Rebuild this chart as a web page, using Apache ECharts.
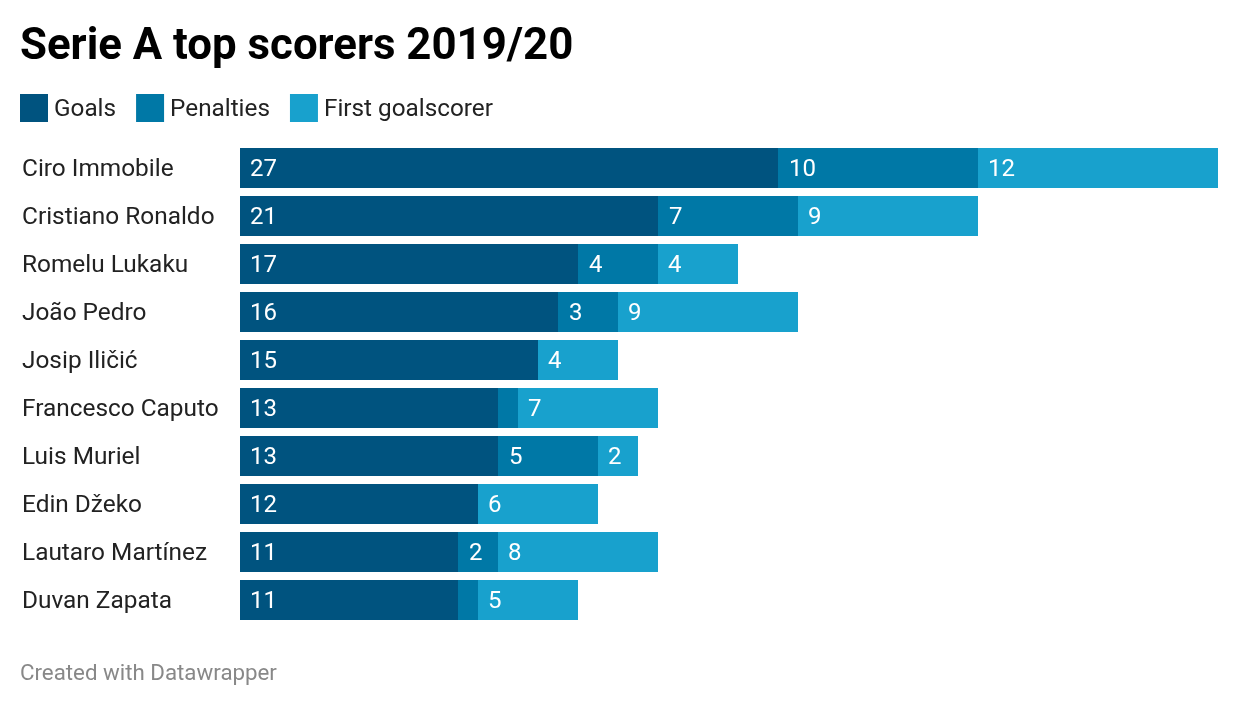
<!DOCTYPE html>
<html>
<head>
<meta charset="utf-8">
<script src="https://cdn.jsdelivr.net/npm/echarts@6/dist/echarts.min.js"></script>
<style>
html, body { margin: 0; padding: 0; background: #fff; }
#chart { width: 1240px; height: 706px; }
</style>
</head>
<body>
<div id="chart"></div>
<script>
const players = ['Ciro Immobile', 'Cristiano Ronaldo', 'Romelu Lukaku', 'João Pedro', 'Josip Iličić',
    'Francesco Caputo', 'Luis Muriel', 'Edin Džeko', 'Lautaro Martínez', 'Duvan Zapata'];
const goals = [27, 21, 17, 16, 15, 13, 13, 12, 11, 11];
const penalties = [10, 7, 4, 3, 0, 1, 5, 0, 2, 1];
const firstGoalscorer = [12, 9, 4, 9, 4, 7, 2, 6, 8, 5];

const fontName = 'Roboto';

// the narrow one-goal segments carry no label, same as the original
const makeSeries = (name, data, color, labelGap) => ({
    name: name,
    type: 'bar',
    stack: 'total',
    barWidth: 40,
    data: data,
    itemStyle: { color: color },
    label: {
        show: true,
        position: 'insideLeft',
        distance: labelGap,
        offset: [0, 2],
        color: '#fff',
        fontFamily: fontName,
        fontSize: 24,
        formatter: p => p.value > 1 ? p.value : ''
    },
    emphasis: { disabled: true }
});

const myChart = echarts.init(document.getElementById('chart'));
myChart.setOption({
    animation: false,
    textStyle: { fontFamily: fontName },
    title: [
        {
            text: 'Serie A top scorers 2019/20',
            left: 20,
            top: 26,
            padding: 0,
            textStyle: { fontFamily: fontName, fontSize: 43.8, fontWeight: 700, color: '#000' }
        },
        {
            text: 'Created with Datawrapper',
            left: 20,
            top: 663,
            padding: 0,
            textStyle: { fontFamily: fontName, fontSize: 22.3, fontWeight: 400, color: '#888' }
        }
    ],
    legend: {
        left: 20,
        top: 94,
        padding: 0,
        itemWidth: 28,
        itemHeight: 28,
        itemGap: 20,
        icon: 'rect',
        selectedMode: false,
        formatter: '{t|{name}}',
        textStyle: {
            rich: {
                t: { fontFamily: fontName, fontSize: 24.3, color: '#222', padding: [4, 0, 0, 1] }
            }
        },
        data: ['Goals', 'Penalties', 'First goalscorer']
    },
    grid: { left: 240, top: 144, width: 978, height: 480 },
    // min 0.1 keeps every segment edge on a whole pixel at 20px per goal
    xAxis: { type: 'value', min: 0.1, max: 49, show: false },
    yAxis: {
        type: 'category',
        inverse: true,
        data: players,
        axisLine: { show: false },
        axisTick: { show: false },
        axisLabel: {
            interval: 0,
            align: 'left',
            verticalAlign: 'top',
            lineHeight: 4,
            margin: 218,
            color: '#222',
            fontFamily: fontName,
            fontSize: 24.4
        }
    },
    series: [
        makeSeries('Goals', goals, '#00537f', 10),
        makeSeries('Penalties', penalties, '#0078a6', 11),
        makeSeries('First goalscorer', firstGoalscorer, '#18a1cd', 10)
    ]
});
</script>
</body>
</html>
